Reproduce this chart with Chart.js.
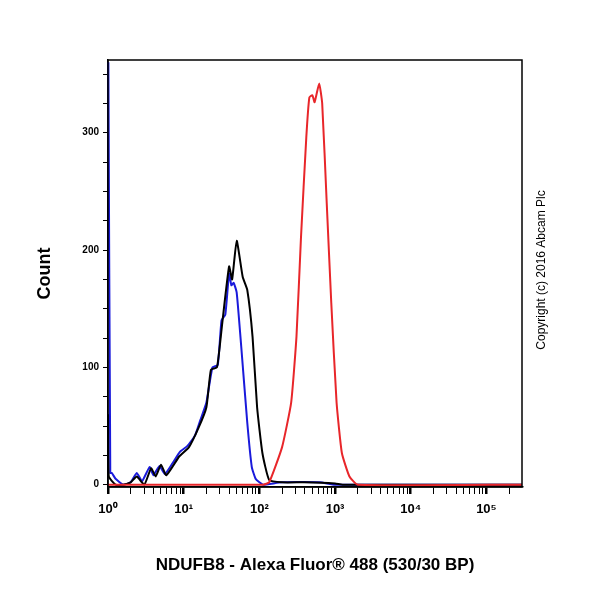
<!DOCTYPE html><html><head><script src="https://cdn.jsdelivr.net/npm/chart.js@4"></script>
<style>body{margin:0;background:#fff}#w{width:600px;height:600px}</style></head><body><div id="w"><canvas id="c"></canvas></div>
<script>
const blackX=[0,0.01,0.1,0.2,0.3,0.38,0.48,0.57,0.63,0.7,0.77,0.94,1.07,1.2,1.3,1.36,1.44,1.51,1.6,1.64,1.7,1.78,1.84,1.91,1.97,2.04,2.13,2.3,2.6,3.0,3.1,5.47];
const blackY=[60,7,0,0,2,7,0,14,7,17,8,24,32,49,66,98,100,138,186,175,208,177,166,126,66,27,4,2,2,1,0,0];
const blueX=[0.005,0.03,0.05,0.1,0.2,0.3,0.38,0.45,0.55,0.6,0.68,0.75,0.85,0.95,1.05,1.15,1.22,1.3,1.38,1.45,1.5,1.55,1.6,1.63,1.66,1.7,1.76,1.84,1.9,1.95,2.0,2.05,2.3,2.8,3.0,5.47];
const blueY=[360,10,10,5,0,2,10,3,15,8,16,9,18,28,33,42,55,70,100,102,140,145,180,170,172,164,118,53,15,5,2,0,2,2,0,0];
const redX=[0,1.9,2.05,2.13,2.3,2.42,2.49,2.55,2.62,2.66,2.7,2.73,2.79,2.83,2.89,2.95,3.02,3.09,3.19,3.3,5.47];
const redY=[0,0,0,2,32,70,126,211,296,330,332,326,342,325,240,155,70,27,7,0,0];
const xTickLabels=['10⁰','10¹','10²','10³','10⁴','10⁵'];
const pts=(xs,ys)=>xs.map((x,i)=>({x,y:ys[i]}));
const frame={id:'frame',afterDraw(c){const a=c.chartArea,g=c.ctx;g.save();g.strokeStyle='#000';g.lineWidth=1.5;g.strokeRect(a.left,a.top,a.right-a.left,a.bottom-a.top);
g.translate(542,270);g.rotate(-Math.PI/2);g.font='12px Arial';g.fillStyle='#000';g.textAlign='center';g.textBaseline='middle';g.fillText('Copyright (c) 2016 Abcam Plc',0,0);g.restore();}};
const ds=(d,col)=>({data:d,borderColor:col,borderWidth:2,pointRadius:0,tension:0.15,fill:false,clip:false});
new Chart(document.getElementById('c'),{type:'line',data:{datasets:[ds(pts(redX,redY),'#e8262a'),ds(pts(blackX,blackY),'#000'),ds(pts(blueX,blueY),'#1a1adb')]},
options:{animation:false,responsive:true,maintainAspectRatio:false,layout:{padding:{top:60,right:78,left:30,bottom:20}},plugins:{legend:{display:false},tooltip:{enabled:false}},
scales:{x:{type:'linear',min:0,max:5.47,
afterBuildTicks(s){const t=[];for(let d=0;d<=5;d++){for(let m=1;m<=9;m++){const v=d+Math.log10(m);if(v<=5.47)t.push({value:v});}}s.ticks=t;},
afterFit(s){s.height=93;},
ticks:{autoSkip:false,maxRotation:0,color:'#000',font:{size:13,weight:'bold',family:'Arial'},padding:8,callback(v){const r=Math.round(v);return Math.abs(v-r)<1e-6?xTickLabels[r]:'';}},
grid:{drawOnChartArea:false,color:'#000',tickLength:7,lineWidth:c=>{const v=c.tick?c.tick.value:0;return Math.abs(v-Math.round(v))<1e-6?2.5:1;}},border:{color:'#000',width:1.5},
title:{display:true,text:'NDUFB8 - Alexa Fluor® 488 (530/30 BP)',color:'#000',font:{size:17,weight:'bold',family:'Arial'},padding:{top:22}}},
y:{min:-2,max:362,afterFit(s){s.width=78;},
afterBuildTicks(s){const t=[];for(let v=0;v<=350;v+=25)t.push({value:v});s.ticks=t;},
ticks:{color:'#000',font:{size:10,weight:'bold',family:'Arial'},padding:4,callback(v){return v%100===0?String(v):'';}},
grid:{drawOnChartArea:false,color:'#000',tickLength:5},border:{color:'#000',width:1.5},
title:{display:true,text:'Count',color:'#000',font:{size:18,weight:'bold',family:'Arial'},padding:{bottom:10}}}}},plugins:[frame]});
</script></body></html>
